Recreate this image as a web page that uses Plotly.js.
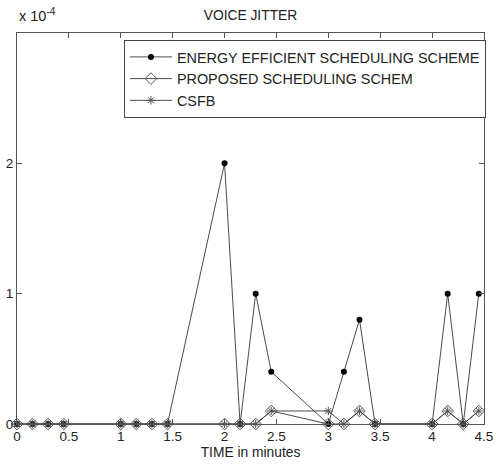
<!DOCTYPE html>
<html>
<head>
<meta charset="utf-8">
<script src="https://cdn.plot.ly/plotly-3.0.1.min.js"></script>
<style>html,body{margin:0;padding:0;background:#fff;}#chart{width:496px;height:465px;}</style>
</head>
<body>
<div id="chart"></div>
<script>
// time in minutes
var timeMin = [0, 0.15, 0.3, 0.45, 1.0, 1.15, 1.3, 1.45, 2.0, 2.15, 2.3, 2.45, 3.0, 3.15, 3.3, 3.45, 4.0, 4.15, 4.3, 4.45];
// jitter values in units of 1e-4
var energyEfficient = [0, 0, 0, 0, 0, 0, 0, 0, 2, 0, 1, 0.4, 0, 0.4, 0.8, 0, 0, 1, 0, 1];
var proposed = [0, 0, 0, 0, 0, 0, 0, 0, 0, 0, 0, 0.1, 0, 0, 0.1, 0, 0, 0.1, 0, 0.1];
var csfb = [0, 0, 0, 0, 0, 0, 0, 0, 0, 0, 0, 0.1, 0.1, 0, 0.1, 0, 0, 0.1, 0, 0.1];
var seriesNames = ['ENERGY EFFICIENT SCHEDULING SCHEME', 'PROPOSED SCHEDULING SCHEM', 'CSFB'];
var xTickVals = [0, 0.5, 1, 1.5, 2, 2.5, 3, 3.5, 4, 4.5];
var xTickText = ['0', '0.5', '1', '1.5', '2', '2.5', '3', '3.5', '4', '4.5'];
var yTickVals = [0, 1, 2];
var yTickText = ['0', '1', '2'];

var lineCol = '#4a4a4a';
var fontFam = 'Arial, "Liberation Sans", sans-serif';
var traces = [
  {x: timeMin, y: energyEfficient, name: seriesNames[0], type: 'scatter', mode: 'lines+markers', cliponaxis: false,
   line: {color: lineCol, width: 1}, marker: {symbol: 'circle', size: 6, color: '#000'}},
  {x: timeMin, y: proposed, name: seriesNames[1], type: 'scatter', mode: 'lines+markers', cliponaxis: false,
   line: {color: lineCol, width: 1}, marker: {symbol: 'diamond-open', size: 9, color: '#555', line: {color: '#555', width: 1}}},
  {x: timeMin, y: csfb, name: seriesNames[2], type: 'scatter', mode: 'lines+markers', cliponaxis: false,
   line: {color: lineCol, width: 1}, marker: {symbol: 'asterisk-open', size: 7, color: '#555', line: {color: '#555', width: 1}}}
];

var layout = {
  width: 496, height: 465,
  margin: {l: 17, r: 11, t: 33, b: 41},
  paper_bgcolor: '#fff', plot_bgcolor: '#fff',
  font: {family: fontFam, size: 13.5, color: '#222'},
  showlegend: true,
  title: {text: 'VOICE JITTER', x: 0.505, xanchor: 'center', y: 0.968, yanchor: 'middle', font: {family: fontFam, size: 13.8, color: '#222'}},
  xaxis: {
    range: [0, 4.5], tickvals: xTickVals, ticktext: xTickText,
    ticks: 'inside', ticklen: 5, tickcolor: '#555', showline: true, linecolor: '#555', linewidth: 1,
    mirror: 'ticks', showgrid: false, zeroline: false,
    title: {text: 'TIME in minutes', standoff: 4, font: {family: fontFam, size: 13.8, color: '#222'}}
  },
  yaxis: {
    range: [0, 3], tickvals: yTickVals, ticktext: yTickText,
    ticks: 'inside', ticklen: 5, tickcolor: '#555', showline: true, linecolor: '#555', linewidth: 1,
    mirror: 'ticks', showgrid: false, zeroline: false
  },
  legend: {
    x: 1.002, xanchor: 'right', y: 0.982, yanchor: 'top',
    bgcolor: '#fff', bordercolor: '#444', borderwidth: 1,
    font: {family: fontFam, size: 14.4, color: '#222'},
    itemwidth: 42,
    tracegroupgap: 0
  },
  annotations: [
    {text: 'x 10<sup>-4</sup>', xref: 'paper', yref: 'paper', x: 0, xanchor: 'left', y: 1.0, yshift: 18, yanchor: 'middle',
     showarrow: false, font: {family: fontFam, size: 14.5, color: '#222'}}
  ]
};

Plotly.newPlot('chart', traces, layout, {displayModeBar: false, staticPlot: true});
</script>
</body>
</html>
